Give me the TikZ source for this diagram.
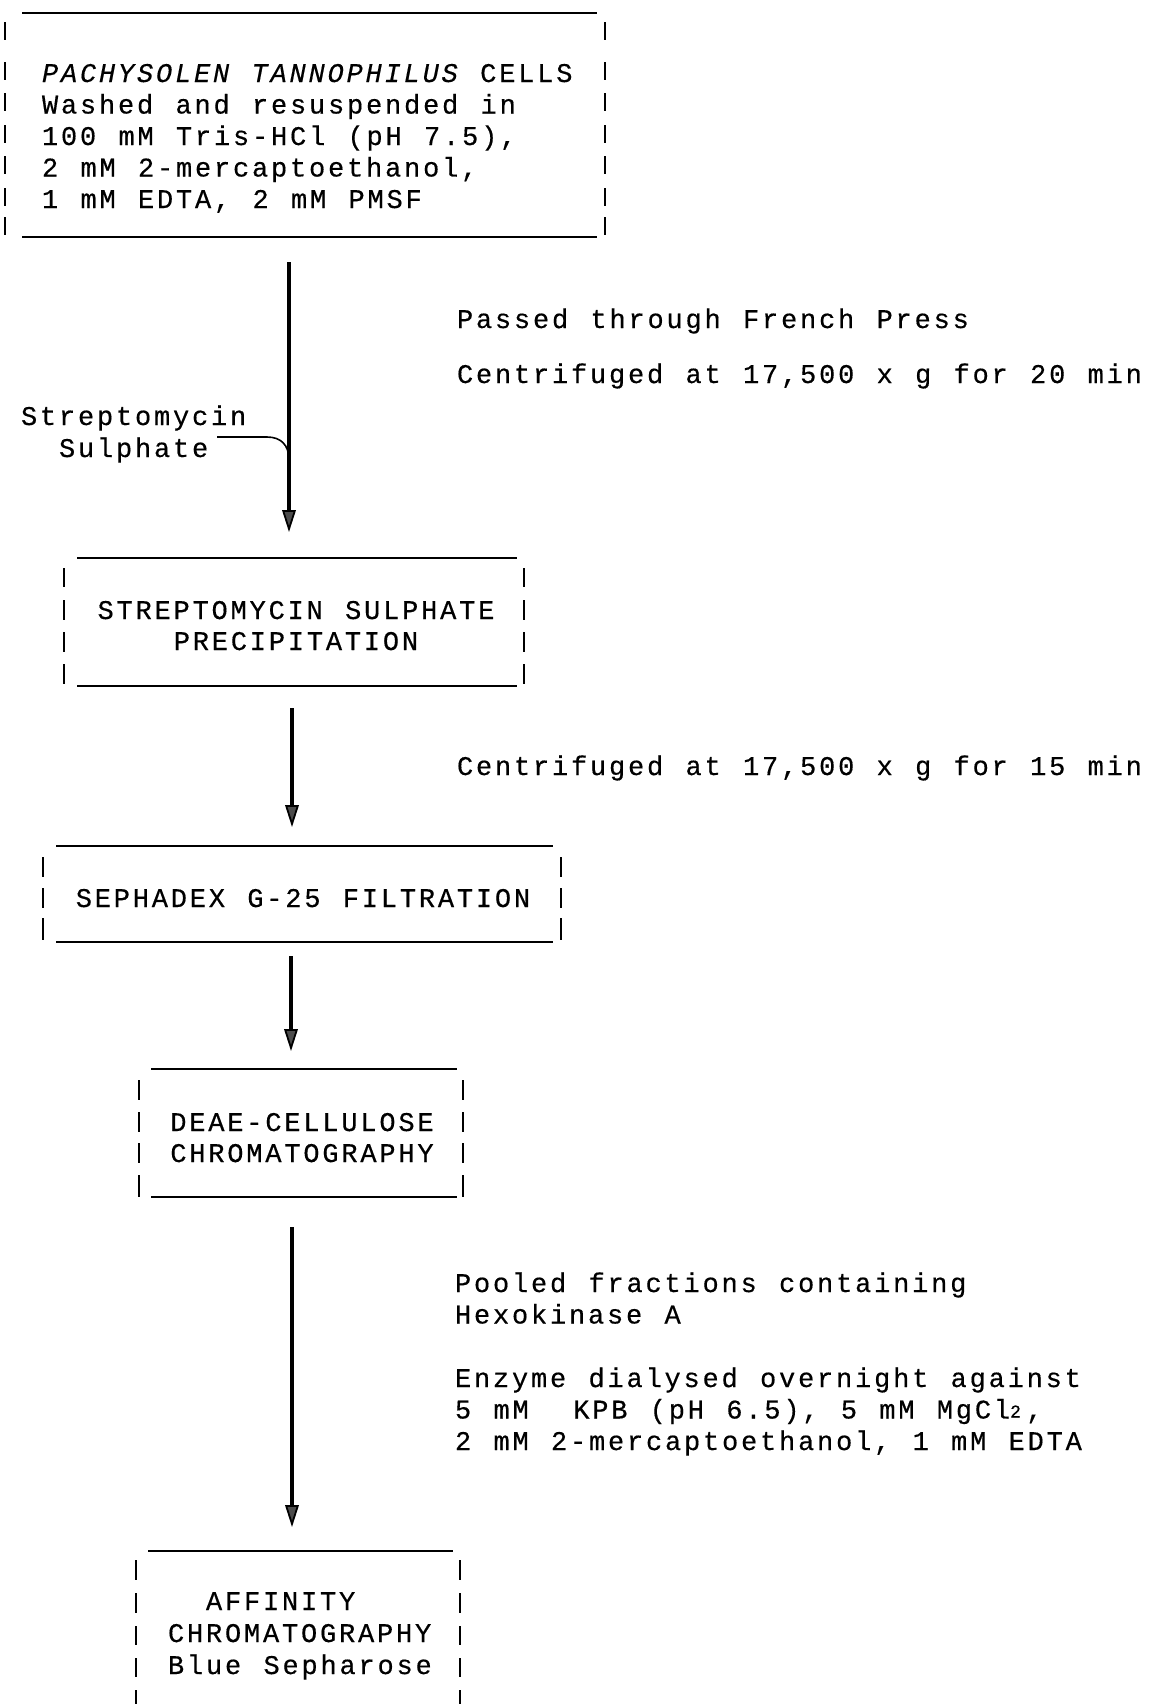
\documentclass[tikz,border=0pt]{standalone}
\usepackage{fontspec}
\newfontfamily\tw[LetterSpace=10.4,WordSpace=1.173,FakeBold=0.4]{Liberation Mono}
\usetikzlibrary{arrows.meta,fit}
\newcommand{\subtwo}{\setbox0\hbox{0}\hbox to \wd0{\raisebox{0.5pt}{\fontsize{9}{9}\selectfont 2}\hss}}
\begin{document}
\begin{tikzpicture}[x=0.5pt,y=-0.5pt,
  txt/.style={font=\tw\fontsize{13.5}{15}\selectfont, inner sep=0, outer sep=0},
  rule/.style={line width=1pt},
  tick/.style={line width=1.2pt},
  branch/.style={line width=0.8pt},
  flow/.style={line width=1.6pt, -{Triangle[length=11pt,width=6.8pt,line width=0.9pt,fill=black!70]}},
  frame/.style={inner sep=0, outer sep=0, draw=none}]
\useasboundingbox[fill=white] (0,0) rectangle (1153,1704);

% ---------- Box 1 ----------
\coordinate (b1a) at (22,13); \coordinate (b1b) at (597,237);
\node[frame, fit=(b1a)(b1b)] (box1) {};
\draw[rule] (box1.north west) -- (box1.north east);
\draw[rule] (box1.south west) -- (box1.south east);
\foreach \a/\b in {22/40,62/80,93/111,125/143,156/174,188/206,217/235}{
  \draw[tick] (5,\a) -- (5,\b); \draw[tick] (605,\a) -- (605,\b);}
\node[txt, anchor=base west] (t11) at (42,82) {{\itshape PACHYSOLEN TANNOPHILUS} CELLS};
\node[txt, anchor=base west] (t12) at (42,113.5) {Washed and resuspended in};
\node[txt, anchor=base west] (t13) at (42,145) {100 mM Tris-HCl (pH 7.5),};
\node[txt, anchor=base west] (t14) at (42,176.5) {2 mM 2-mercaptoethanol,};
\node[txt, anchor=base west] (t15) at (42,208) {1 mM EDTA, 2 mM PMSF};

% ---------- Box 2 ----------
\coordinate (b2a) at (77,558); \coordinate (b2b) at (517,686);
\node[frame, fit=(b2a)(b2b)] (box2) {};
\draw[rule] (box2.north west) -- (box2.north east);
\draw[rule] (box2.south west) -- (box2.south east);
\foreach \a/\b in {568/587,600/620,632/652,664/684}{
  \draw[tick] (64,\a) -- (64,\b); \draw[tick] (524,\a) -- (524,\b);}
\node[txt, anchor=base] (t21) at (296,619) {STREPTOMYCIN SULPHATE};
\node[txt, anchor=base] (t22) at (296,650) {PRECIPITATION};

% ---------- Box 3 ----------
\coordinate (b3a) at (56,846); \coordinate (b3b) at (553,942);
\node[frame, fit=(b3a)(b3b)] (box3) {};
\draw[rule] (box3.north west) -- (box3.north east);
\draw[rule] (box3.south west) -- (box3.south east);
\foreach \a/\b in {857/877,888/908,918/940}{
  \draw[tick] (43,\a) -- (43,\b); \draw[tick] (561,\a) -- (561,\b);}
\node[txt, anchor=base] (t31) at (303,907) {SEPHADEX G-25 FILTRATION};

% ---------- Box 4 ----------
\coordinate (b4a) at (151,1069); \coordinate (b4b) at (457,1197);
\node[frame, fit=(b4a)(b4b)] (box4) {};
\draw[rule] (box4.north west) -- (box4.north east);
\draw[rule] (box4.south west) -- (box4.south east);
\foreach \a/\b in {1080/1100,1112/1132,1143/1163,1175/1197}{
  \draw[tick] (139,\a) -- (139,\b); \draw[tick] (463,\a) -- (463,\b);}
\node[txt, anchor=base] (t41) at (302,1131) {DEAE-CELLULOSE};
\node[txt, anchor=base] (t42) at (302,1162) {CHROMATOGRAPHY};

% ---------- Box 5 ----------
\coordinate (b5a) at (148,1551); \coordinate (b5b) at (453,1720);
\node[frame, fit=(b5a)(b5b)] (box5) {};
\draw[rule] (box5.north west) -- (box5.north east);
\foreach \a/\b in {1560/1580,1593/1613,1626/1645,1658/1677,1690/1710}{
  \draw[tick] (136,\a) -- (136,\b); \draw[tick] (460,\a) -- (460,\b);}
\node[txt, anchor=base west] (t51) at (206,1610) {AFFINITY};
\node[txt, anchor=base west] (t52) at (168,1642) {CHROMATOGRAPHY};
\node[txt, anchor=base west] (t53) at (168,1674) {Blue Sepharose};

% ---------- Arrows ----------
\coordinate (x1) at (289,0); \coordinate (x2) at (292,0);
\coordinate (x3) at (291,0); \coordinate (x4) at (292,0);
\draw[flow, shorten <=12.5pt, shorten >=13pt] (box1.south -| x1) -- (box2.north -| x1);
\draw[flow, shorten <=11pt, shorten >=9.5pt] (box2.south -| x2) -- (box3.north -| x2);
\draw[flow, shorten <=7pt, shorten >=9pt] (box3.south -| x3) -- (box4.north -| x3);
\draw[flow, shorten <=15pt, shorten >=12pt] (box4.south -| x4) -- (box5.north -| x4);

% ---------- Streptomycin side input ----------
\node[txt, anchor=base west] (s1) at (21,425) {Streptomycin};
\node[txt, anchor=base west] (s2) at (59,457) {Sulphate};
\coordinate (sbr) at (217,437);
\coordinate (sj) at (289,460);
\draw[branch] (sbr) -- (267,437) .. controls (281,437) and (289,445) .. (sj);

% ---------- Annotations ----------
\node[txt, anchor=base west] (n1) at (457,328) {Passed through French Press};
\node[txt, anchor=base west] (n2) at (457,383) {Centrifuged at 17,500 x g for 20 min};
\node[txt, anchor=base west] (n3) at (457,775) {Centrifuged at 17,500 x g for 15 min};
\node[txt, anchor=base west] (n4) at (455,1292) {Pooled fractions containing};
\node[txt, anchor=base west] (n5) at (455,1323.5) {Hexokinase A};
\node[txt, anchor=base west] (n6) at (455,1387) {Enzyme dialysed overnight against};
\node[txt, anchor=base west] (n7) at (455,1418.5) {5 mM\ \ KPB (pH 6.5), 5 mM MgCl\subtwo,};
\node[txt, anchor=base west] (n8) at (455,1450) {2 mM 2-mercaptoethanol, 1 mM EDTA};
\end{tikzpicture}
\end{document}
